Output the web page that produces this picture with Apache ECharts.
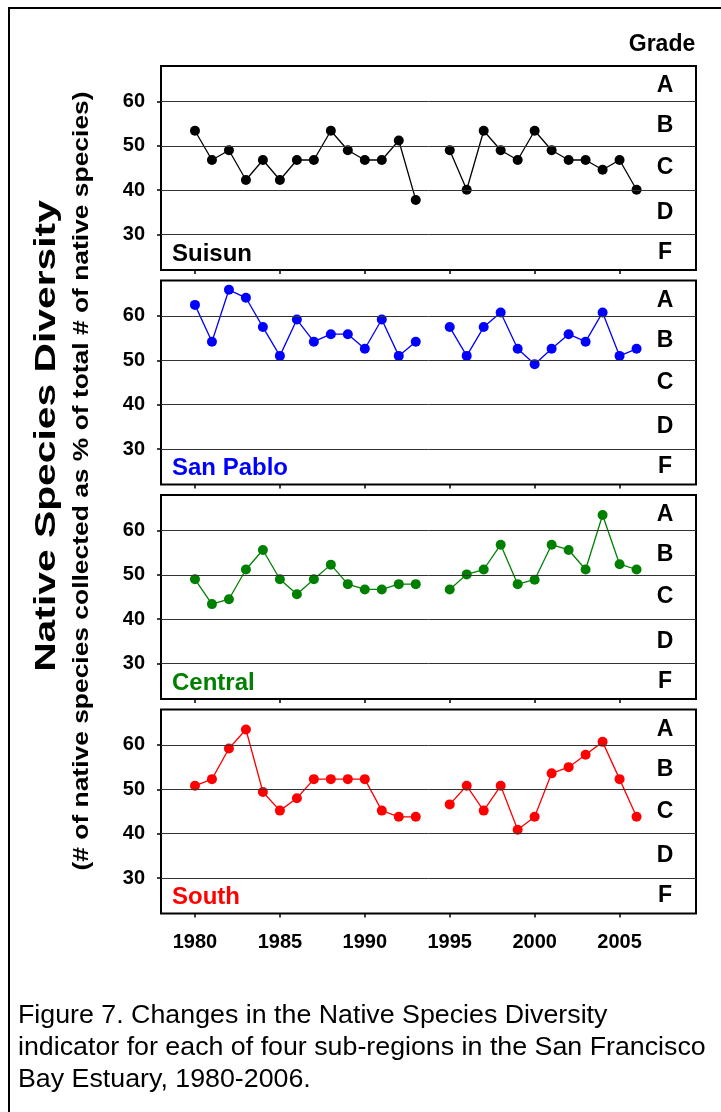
<!DOCTYPE html>
<html><head><meta charset="utf-8">
<script src="https://cdn.jsdelivr.net/npm/echarts@6/dist/echarts.min.js"></script>
<style>html,body{margin:0;padding:0;background:#fff}#c{width:721px;height:1112px}</style>
</head><body><div id="c"></div>
<script>
// ---------- data ----------
const years = [1980,1981,1982,1983,1984,1985,1986,1987,1988,1989,1990,1991,1992,1993,1994,
               1995,1996,1997,1998,1999,2000,2001,2002,2003,2004,2005,2006];
const suisun   = [53.4,46.8,49.0,42.3,46.8,42.3,46.8,46.8,53.4,49.0,46.8,46.8,51.2,37.8,null,
                  49.0,40.1,53.4,49.0,46.8,53.4,49.0,46.8,46.8,44.6,46.8,40.1];
const sanPablo = [62.5,54.2,65.9,64.1,57.5,51.0,59.2,54.2,55.9,55.9,52.6,59.2,51.0,54.2,null,
                  57.5,51.0,57.5,60.8,52.6,49.1,52.6,55.9,54.2,60.8,51.0,52.6];
const central  = [49.0,43.4,44.5,51.2,55.6,49.0,45.6,49.0,52.3,47.9,46.7,46.7,47.9,47.9,null,
                  46.7,50.1,51.2,56.8,47.9,48.9,56.8,55.6,51.2,63.5,52.4,51.2];
const south    = [50.8,52.3,59.2,63.5,49.4,45.2,48.0,52.3,52.3,52.3,52.3,45.2,43.8,43.8,null,
                  46.6,50.8,45.2,50.8,40.9,43.8,53.6,55.0,57.8,60.7,52.3,43.8];
const regionNames  = ['Suisun','San Pablo','Central','South'];
const regionColors = ['#000000','#0000FF','#008000','#FF0000'];
const regionValues = [suisun, sanPablo, central, south];
const yTicks = [30,40,50,60];
const xTicks = [1980,1985,1990,1995,2000,2005];
const grades = ['A','B','C','D','F'];
const gradeValue = [63.5,54.5,45,35,26];

// ---------- layout ----------
const FONT = '"Liberation Sans", Arial, sans-serif';
const gridTops = [66, 280.5, 495, 709.5];
const gridH = 204;

const chart = echarts.init(document.getElementById('c'), null, {renderer:'canvas'});
const grid = [], xAxis = [], yAxis = [], series = [];
regionNames.forEach((name, i) => {
  const last = i === regionNames.length - 1;
  grid.push({left:161, right:25, top:gridTops[i], height:gridH, show:true,
             borderColor:'#000', borderWidth:2, backgroundColor:'transparent'});
  xAxis.push({type:'value', gridIndex:i, min:1978, max:2009.5,
    axisLine:{show:false}, splitLine:{show:false},
    axisTick:{show:true, customValues:xTicks, length:4, lineStyle:{color:'#000', width:1.5}},
    axisLabel:{show:last, customValues:xTicks, margin:19, fontSize:20, fontWeight:'bold',
               fontFamily:FONT, color:'#000', formatter: v => String(v)}});
  yAxis.push({type:'value', gridIndex:i, min:22, max:68,
    axisLine:{show:false}, splitLine:{show:false},
    axisTick:{show:true, customValues:yTicks, length:4, lineStyle:{color:'#000', width:1.5}},
    axisLabel:{show:true, customValues:yTicks, margin:16, fontSize:20, fontWeight:'bold',
               fontFamily:FONT, color:'#000'}});
  series.push({type:'line', xAxisIndex:i, yAxisIndex:i, data:[], z:1, silent:true,
    markLine:{silent:true, symbol:'none', label:{show:false}, animation:false,
      lineStyle:{color:'#333', width:1, type:'solid'},
      data: yTicks.map(v => ({yAxis:v}))}});
  series.push({type:'line', name:name, xAxisIndex:i, yAxisIndex:i, z:3,
    data: years.map((y, k) => [y, regionValues[i][k]]),
    connectNulls:false, symbol:'circle', symbolSize:10, showSymbol:true,
    lineStyle:{color:regionColors[i], width:1.3},
    itemStyle:{color:regionColors[i]}});
});

chart.setOption({animation:false, backgroundColor:'#fff', grid, xAxis, yAxis, series});

// ---------- texts ----------
function txt(o){
  return {type:'text', x:o.x, y:o.y, rotation:o.rot||0, scaleX:o.sx||1, z:10, silent:true,
    style:{text:o.text, fontSize:o.size, fontWeight:o.weight||'normal', fontFamily:FONT,
           fill:o.color||'#000', align:o.align||'left', verticalAlign:'middle',
           textAlign:o.align||'left', textVerticalAlign:'middle'}};
}
const g = [];
g.push({type:'rect', z:0, silent:true, shape:{x:9, y:8, width:730, height:1120},
        style:{fill:'none', stroke:'#000', lineWidth:2}});
g.push(txt({x:662, y:45, text:'Grade', size:23, weight:'bold', align:'center'}));
regionNames.forEach((name, i) => {
  const bottom = gridTops[i] + gridH;
  g.push(txt({x:172, y:bottom - 16, text:name, size:24, weight:'bold', color:regionColors[i]}));
  grades.forEach((gr, j) => {
    const py = chart.convertToPixel({yAxisIndex:i}, gradeValue[j]);
    g.push(txt({x:665, y:py, text:gr, size:23, weight:'bold', align:'center'}));
  });
});
g.push(txt({x:47, y:436, rot:Math.PI/2, sx:1.36, text:'Native Species Diversity', size:30, weight:'bold', align:'center'}));
g.push(txt({x:82, y:481, rot:Math.PI/2, sx:1.2, text:'(# of native species collected as % of total # of native species)', size:22, weight:'bold', align:'center'}));
const caption = ['Figure 7. Changes in the Native Species Diversity',
                 'indicator for each of four sub-regions in the San Francisco',
                 'Bay Estuary, 1980-2006.'];
caption.forEach((line, k) => g.push(txt({x:18, y:1016 + k*32, sx:1.03, text:line, size:26})));
chart.setOption({graphic:g});
</script></body></html>
